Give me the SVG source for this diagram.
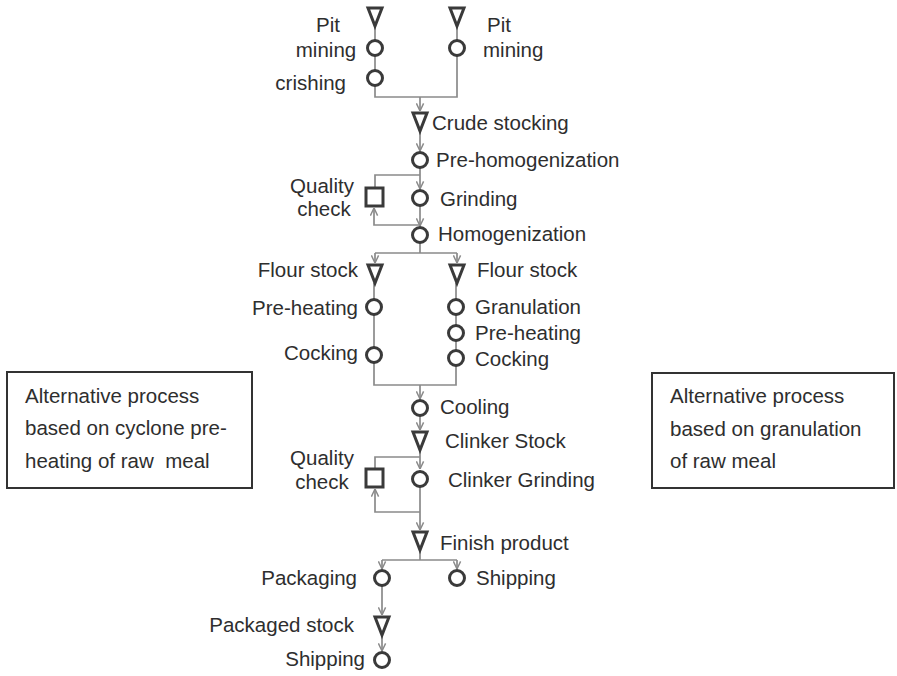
<svg xmlns="http://www.w3.org/2000/svg" width="897" height="676" viewBox="0 0 897 676">
<style>
text{font-family:"Liberation Sans",Arial,sans-serif;font-size:20.5px;fill:#2e2e2e}
.st{fill:#fff;stroke:#3a3a3a;stroke-width:3;stroke-linejoin:miter}
.c{fill:none;stroke:#8a8a8a;stroke-width:1.7}
.box{fill:#fff;stroke:#333;stroke-width:2}
.e{text-anchor:end}
.m{text-anchor:middle}
</style>
<defs>
<marker id="arr" viewBox="0 0 10 10" refX="9.5" refY="5" markerWidth="9" markerHeight="9" markerUnits="userSpaceOnUse" orient="auto">
<path d="M1,1 L9.5,5 L1,9" fill="none" stroke="#8a8a8a" stroke-width="1.6"/>
</marker>
<polygon id="tri" points="-7,0 7,0 0,18"/>
</defs>
<rect width="897" height="676" fill="#fff"/>

<g id="connectors">
<path class="c" d="M375,27 V41 M375,55 V71 M375,85 V97 H457 V55 M457,27 V41"/>
<path class="c" d="M420,97 V111" marker-end="url(#arr)"/>
<path class="c" d="M420,132 V151" marker-end="url(#arr)"/>
<path class="c" d="M420,167 V189" marker-end="url(#arr)"/>
<path class="c" d="M420,175 H375 V188"/>
<path class="c" d="M420,205 V226" marker-end="url(#arr)"/>
<path class="c" d="M420,225 H374 V208" marker-end="url(#arr)"/>
<path class="c" d="M420,242 V253 H375 M420,253 H457"/>
<path class="c" d="M375,253 V263" marker-end="url(#arr)"/>
<path class="c" d="M457,253 V263" marker-end="url(#arr)"/>
<path class="c" d="M374,283 V300 M374,314 V348 M374,362 V385 H456 V365 M456,283 V300 M456,314 V326 M456,340 V351"/>
<path class="c" d="M420,385 V399" marker-end="url(#arr)"/>
<path class="c" d="M420,415 V430" marker-end="url(#arr)"/>
<path class="c" d="M420,450 V469" marker-end="url(#arr)"/>
<path class="c" d="M420,457 H375 V469"/>
<path class="c" d="M420,486 V530" marker-end="url(#arr)"/>
<path class="c" d="M420,512 H375 V489" marker-end="url(#arr)"/>
<path class="c" d="M420,552 V560 H382 M420,560 H457"/>
<path class="c" d="M382,560 V569" marker-end="url(#arr)"/>
<path class="c" d="M457,560 V569" marker-end="url(#arr)"/>
<path class="c" d="M382,586 V615" marker-end="url(#arr)"/>
<path class="c" d="M382,635 V651" marker-end="url(#arr)"/>
</g>

<g id="pit-mining-left-stock"><use href="#tri" class="st" x="375" y="8"/></g>
<g id="pit-mining-left"><circle class="st" cx="375" cy="48" r="7.5"/><text x="328" y="32" class="m">Pit</text><text x="326" y="57" class="m">mining</text></g>
<g id="crishing"><circle class="st" cx="375" cy="78" r="7.5"/><text x="346" y="90" class="e">crishing</text></g>
<g id="pit-mining-right-stock"><use href="#tri" class="st" x="457" y="8"/></g>
<g id="pit-mining-right"><circle class="st" cx="457" cy="48" r="7.5"/><text x="487" y="32">Pit</text><text x="483" y="57">mining</text></g>
<g id="crude-stocking"><use href="#tri" class="st" x="420" y="113"/><text x="432" y="130">Crude stocking</text></g>
<g id="pre-homogenization"><circle class="st" cx="420" cy="160" r="7.5"/><text x="436" y="167">Pre-homogenization</text></g>
<g id="quality-check-1"><rect class="st" x="366" y="188" width="17" height="18"/><text x="322" y="193" class="m">Quality</text><text x="324" y="216" class="m">check</text></g>
<g id="grinding"><circle class="st" cx="420" cy="198" r="7.5"/><text x="440" y="206">Grinding</text></g>
<g id="homogenization"><circle class="st" cx="420" cy="235" r="7.5"/><text x="438" y="241">Homogenization</text></g>
<g id="flour-stock-left"><use href="#tri" class="st" x="375" y="265"/><text x="358" y="277" class="e">Flour stock</text></g>
<g id="flour-stock-right"><use href="#tri" class="st" x="457" y="265"/><text x="477" y="277">Flour stock</text></g>
<g id="pre-heating-left"><circle class="st" cx="374" cy="307" r="7.5"/><text x="358" y="315" class="e">Pre-heating</text></g>
<g id="cocking-left"><circle class="st" cx="374" cy="355" r="7.5"/><text x="358" y="360" class="e">Cocking</text></g>
<g id="granulation"><circle class="st" cx="456" cy="307" r="7.5"/><text x="475" y="314">Granulation</text></g>
<g id="pre-heating-right"><circle class="st" cx="456" cy="333" r="7.5"/><text x="475" y="340">Pre-heating</text></g>
<g id="cocking-right"><circle class="st" cx="456" cy="358" r="7.5"/><text x="475" y="366">Cocking</text></g>
<g id="cooling"><circle class="st" cx="420" cy="408" r="7.5"/><text x="440" y="414">Cooling</text></g>
<g id="clinker-stock"><use href="#tri" class="st" x="420" y="432"/><text x="445" y="448">Clinker Stock</text></g>
<g id="quality-check-2"><rect class="st" x="366" y="469" width="17" height="18"/><text x="322" y="465" class="m">Quality</text><text x="322" y="489" class="m">check</text></g>
<g id="clinker-grinding"><circle class="st" cx="420" cy="479" r="7.5"/><text x="448" y="487">Clinker Grinding</text></g>
<g id="finish-product"><use href="#tri" class="st" x="420" y="532"/><text x="440" y="550">Finish product</text></g>
<g id="packaging"><circle class="st" cx="382" cy="578" r="7.5"/><text x="357" y="585" class="e">Packaging</text></g>
<g id="shipping-right"><circle class="st" cx="457" cy="578" r="7.5"/><text x="476" y="585">Shipping</text></g>
<g id="packaged-stock"><use href="#tri" class="st" x="382" y="617"/><text x="354" y="632" class="e">Packaged stock</text></g>
<g id="shipping-bottom"><circle class="st" cx="382" cy="660" r="7.5"/><text x="365" y="666" class="e">Shipping</text></g>

<g id="note-cyclone">
<rect class="box" x="7" y="372" width="245" height="116"/>
<text x="25" y="403">Alternative process</text>
<text x="25" y="435">based on cyclone pre-</text>
<text x="25" y="468" xml:space="preserve">heating of raw  meal</text>
</g>
<g id="note-granulation">
<rect class="box" x="652" y="373" width="242" height="115"/>
<text x="670" y="403">Alternative process</text>
<text x="670" y="436">based on granulation</text>
<text x="670" y="468">of raw meal</text>
</g>
</svg>
